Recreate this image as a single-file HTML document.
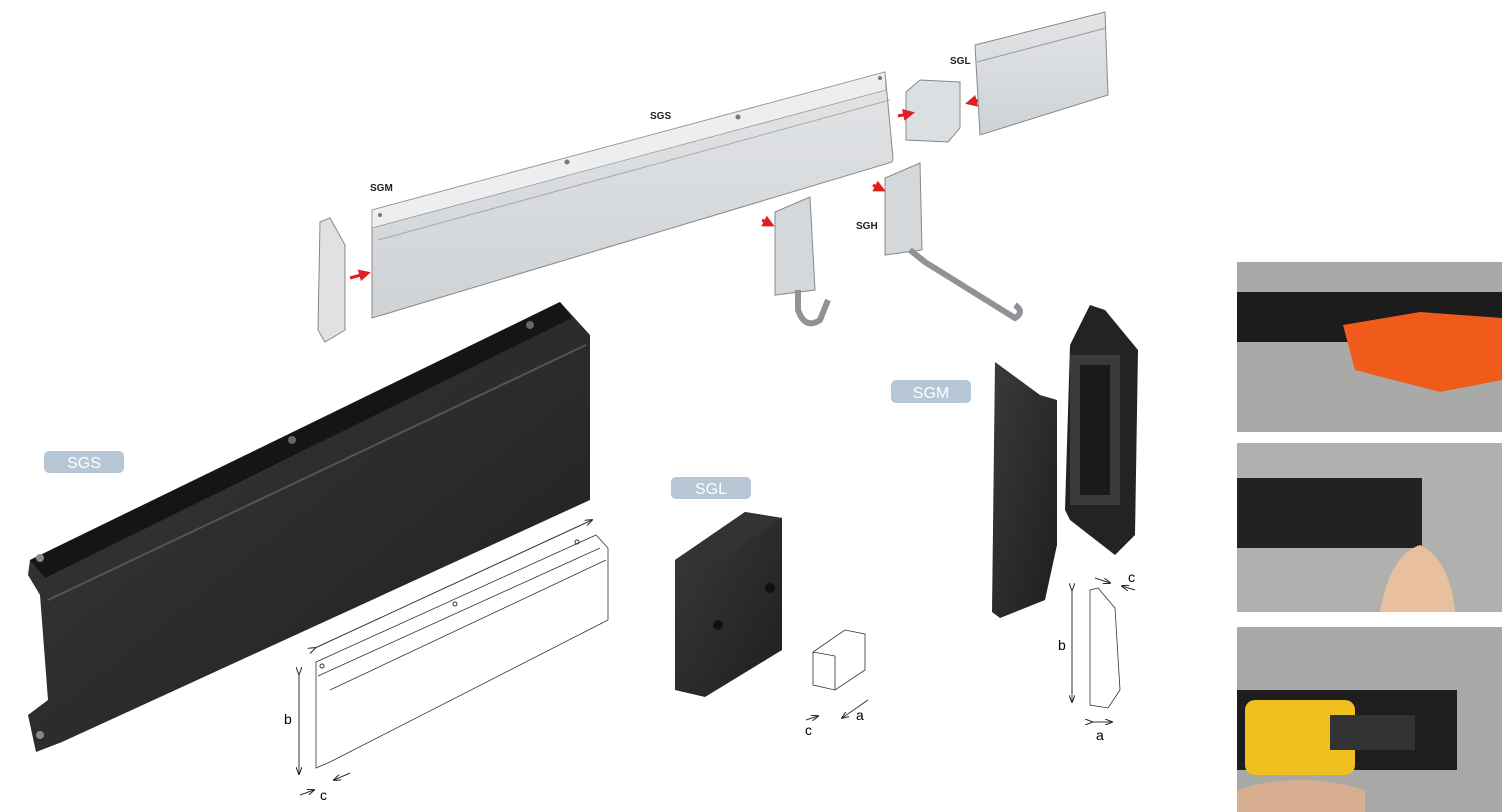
<!DOCTYPE html>
<html><head><meta charset="utf-8"><style>
html,body{margin:0;padding:0;background:#fff;width:1502px;height:812px;overflow:hidden}
svg{display:block}
text{font-family:"Liberation Sans",sans-serif}
</style></head><body>
<svg width="1502" height="812" viewBox="0 0 1502 812" xmlns="http://www.w3.org/2000/svg">
<defs>
<linearGradient id="lg" x1="0" y1="0" x2="0" y2="1"><stop offset="0" stop-color="#e2e4e6"/><stop offset="1" stop-color="#cfd2d5"/></linearGradient>
<linearGradient id="bk" x1="0" y1="0" x2="1" y2="1"><stop offset="0" stop-color="#3a3a3a"/><stop offset="1" stop-color="#1e1e1e"/></linearGradient>
<marker id="ar" markerWidth="4" markerHeight="4" refX="3" refY="2" orient="auto" markerUnits="strokeWidth"><path d="M0,0L4,2L0,4z" fill="#e02020"/></marker>
<marker id="da" markerWidth="8" markerHeight="6" refX="7" refY="3" orient="auto"><path d="M0,0L8,3L0,6" fill="none" stroke="#222"/></marker>
</defs>

<polygon points="372,210 885,72 893,158 892,162 372,318" fill="url(#lg)" stroke="#888" stroke-width="1"/>
<polygon points="372,210 885,72 886,90 372,228" fill="#eceef0" stroke="#999" stroke-width="0.8"/>
<line x1="378" y1="240" x2="890" y2="100" stroke="#aaa"/>
<circle cx="567" cy="162" r="2.5" fill="#777"/><circle cx="738" cy="117" r="2.5" fill="#777"/><circle cx="380" cy="215" r="2" fill="#777"/><circle cx="880" cy="78" r="2" fill="#777"/>
<text x="370" y="191" font-size="10" font-weight="bold" fill="#222">SGM</text>
<text x="650" y="119" font-size="10" font-weight="bold" fill="#222">SGS</text>
<text x="950" y="64" font-size="10" font-weight="bold" fill="#222">SGL</text>
<text x="856" y="229" font-size="10" font-weight="bold" fill="#222">SGH</text>
<polygon points="320,222 330,218 345,245 345,330 325,342 318,330" fill="#dfe1e3" stroke="#888"/>
<line x1="350" y1="278" x2="368" y2="273" stroke="#e02020" stroke-width="3" marker-end="url(#ar)"/>
<polygon points="906,92 920,80 960,82 960,128 948,142 906,140" fill="#dcdfe2" stroke="#888"/>
<line x1="898" y1="116" x2="912" y2="113" stroke="#e02020" stroke-width="3" marker-end="url(#ar)"/>
<line x1="980" y1="100" x2="968" y2="103" stroke="#e02020" stroke-width="3" marker-end="url(#ar)"/>
<polygon points="975,45 1105,12 1108,95 980,135" fill="url(#lg)" stroke="#888"/>
<line x1="977" y1="62" x2="1106" y2="28" stroke="#999"/>
<polygon points="775,212 810,197 815,290 775,295" fill="#d5d8db" stroke="#888"/>
<path d="M798,290 L798,310 Q805,330 820,320 L828,300" fill="none" stroke="#8f9296" stroke-width="6"/>
<line x1="762" y1="220" x2="772" y2="225" stroke="#e02020" stroke-width="3" marker-end="url(#ar)"/>
<polygon points="885,178 920,163 922,250 885,255" fill="#d5d8db" stroke="#888"/>
<path d="M910,250 L925,262 L1015,318 Q1025,312 1015,305" fill="none" stroke="#8f9296" stroke-width="6"/>
<line x1="873" y1="185" x2="883" y2="190" stroke="#e02020" stroke-width="3" marker-end="url(#ar)"/>

<polygon points="30,560 560,302 590,335 590,500 62,742 36,752 28,715 48,700 40,595 28,575" fill="url(#bk)"/>
<polygon points="30,560 560,302 572,318 45,578" fill="#151515"/>
<line x1="48" y1="600" x2="586" y2="345" stroke="#555" stroke-width="2"/>
<circle cx="40" cy="558" r="4" fill="#888"/><circle cx="292" cy="440" r="4" fill="#666"/><circle cx="530" cy="325" r="4" fill="#666"/><circle cx="40" cy="735" r="4" fill="#888"/>

<rect x="44" y="451" width="80" height="22" rx="5" fill="#b6c6d5"/><text x="84" y="468" font-size="16" fill="#fff" text-anchor="middle">SGS</text>
<rect x="671" y="477" width="80" height="22" rx="5" fill="#b6c6d5"/><text x="711" y="494" font-size="16" fill="#fff" text-anchor="middle">SGL</text>
<rect x="891" y="380" width="80" height="23" rx="5" fill="#b6c6d5"/><text x="931" y="398" font-size="16" fill="#fff" text-anchor="middle">SGM</text>

<g fill="#fff" stroke="#333" stroke-width="0.8">
<polygon points="316,662 596,535 608,548 608,620 330,762 316,768"/>
<line x1="318" y1="676" x2="600" y2="548"/>
<line x1="330" y1="690" x2="606" y2="560"/>
</g>
<circle cx="322" cy="666" r="2" fill="none" stroke="#333"/><circle cx="455" cy="604" r="2" fill="none" stroke="#333"/><circle cx="577" cy="542" r="2" fill="none" stroke="#333"/>
<line x1="315" y1="648" x2="592" y2="520" stroke="#333" marker-end="url(#da)" marker-start="url(#da)"/>
<line x1="299" y1="674" x2="299" y2="774" stroke="#333" marker-end="url(#da)" marker-start="url(#da)"/>
<text x="284" y="724" font-size="14">b</text>
<line x1="300" y1="795" x2="314" y2="790" stroke="#333" marker-end="url(#da)"/><line x1="350" y1="773" x2="334" y2="780" stroke="#333" marker-end="url(#da)"/>
<text x="320" y="800" font-size="14">c</text>

<polygon points="675,560 745,512 782,518 782,650 705,697 675,690" fill="url(#bk)"/>
<polygon points="675,560 745,512 782,518 712,566" fill="#333"/>
<circle cx="718" cy="625" r="5" fill="#111"/><circle cx="770" cy="588" r="5" fill="#111"/>
<polygon points="813,652 845,630 865,634 865,670 835,690 813,685" fill="#fff" stroke="#333" stroke-width="0.8"/>
<line x1="813" y1="652" x2="835" y2="656" stroke="#333" stroke-width="0.8"/><line x1="835" y1="656" x2="835" y2="690" stroke="#333" stroke-width="0.8"/>
<line x1="868" y1="700" x2="842" y2="718" stroke="#333" marker-end="url(#da)"/>
<text x="856" y="720" font-size="14">a</text>
<line x1="806" y1="720" x2="818" y2="716" stroke="#333" marker-end="url(#da)"/>
<text x="805" y="735" font-size="14">c</text>

<polygon points="995,362 1040,395 1057,400 1057,545 1045,600 1000,618 992,612" fill="url(#bk)"/>
<polygon points="1070,345 1090,305 1105,310 1138,350 1135,535 1115,555 1070,520 1065,510" fill="#232323"/>
<rect x="1070" y="355" width="50" height="150" fill="#3a3a3a"/>
<rect x="1080" y="365" width="30" height="130" fill="#1a1a1a"/>

<polygon points="1090,590 1098,588 1115,608 1120,690 1108,708 1090,705" fill="#fff" stroke="#333" stroke-width="0.8"/>
<line x1="1072" y1="590" x2="1072" y2="702" stroke="#333" marker-end="url(#da)" marker-start="url(#da)"/>
<text x="1058" y="650" font-size="14">b</text>
<line x1="1092" y1="722" x2="1112" y2="722" stroke="#333" marker-end="url(#da)" marker-start="url(#da)"/>
<text x="1096" y="740" font-size="14">a</text>
<line x1="1095" y1="578" x2="1110" y2="583" stroke="#333" marker-end="url(#da)"/><line x1="1135" y1="590" x2="1122" y2="586" stroke="#333" marker-end="url(#da)"/>
<text x="1128" y="582" font-size="14">c</text>

<rect x="1237" y="262" width="265" height="170" fill="#a9aaa8"/>
<rect x="1237" y="292" width="265" height="50" fill="#1c1c1c"/>
<polygon points="1343,325 1420,312 1502,318 1502,380 1440,392 1355,370" fill="#f05a1a"/>
<rect x="1237" y="443" width="265" height="169" fill="#b0b0ae"/>
<rect x="1237" y="478" width="185" height="70" fill="#222"/>
<path d="M1380,612 Q1390,555 1420,545 Q1450,560 1455,612z" fill="#e8c0a0"/>
<rect x="1237" y="627" width="265" height="185" fill="#a8a9a7"/>
<rect x="1237" y="690" width="220" height="80" fill="#1e1e1e"/>
<rect x="1245" y="700" width="110" height="75" rx="10" fill="#f0c020"/>
<rect x="1330" y="715" width="85" height="35" fill="#333"/>
<path d="M1237,790 Q1300,770 1365,790 L1365,812 L1237,812z" fill="#d8ae90"/>
</svg>
</body></html>
